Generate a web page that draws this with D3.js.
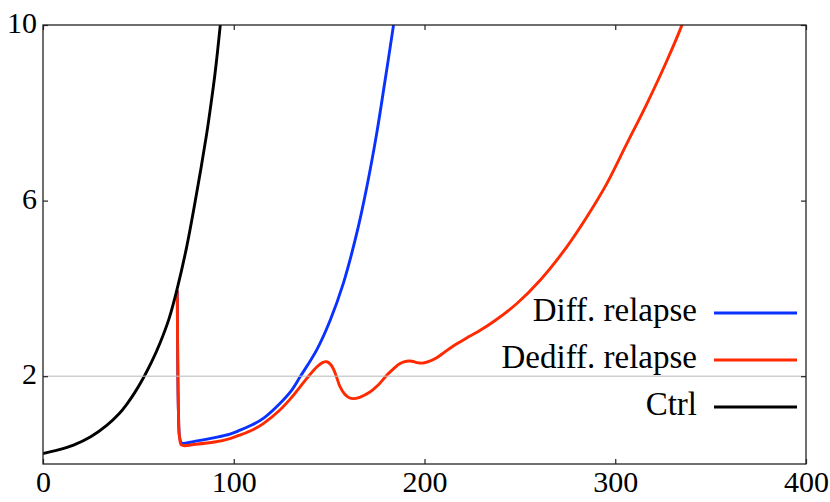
<!DOCTYPE html>
<html>
<head>
<meta charset="utf-8">
<script src="https://cdn.jsdelivr.net/npm/d3@7"></script>
</head>
<body style="margin:0;background:#fff">
<svg id="chart" width="830" height="502" style="display:block"></svg>
<script>
// values
const xTicks = [0, 100, 200, 300, 400];
const yTicks = [2, 6, 10];
const refLevel = 2;

const ctrlSeries = [
  [0,0.24],[8,0.32],[16,0.43],[25,0.62],[33.4,0.88],[40,1.15],[43.9,1.36],[48,1.62],
  [52.6,1.96],[57,2.33],[61.3,2.75],[66,3.3],[70.1,3.95],[75.3,4.94],[79.7,5.96],
  [83,6.78],[85.8,7.52],[88,8.18],[90.2,8.9],[92.8,9.94],[94,10.5]
];

const diffSeries = [
  [70.4,3.95],[70.6,2.5],[71,1.2],[71.6,0.62],[72.7,0.48],[80,0.52],[90,0.6],[98,0.68],
  [103.3,0.77],[110,0.9],[115.5,1.04],[124.2,1.38],[130,1.66],[134.7,1.98],[143.5,2.6],
  [150.5,3.27],[157.4,4.11],[164.4,5.24],[169.7,6.3],[174.9,7.52],[179.3,8.73],
  [183.7,9.98],[185,10.4]
];

const dediffSeries = [
  [70.4,3.95],[70.6,2.5],[71,1.2],[71.6,0.6],[72.7,0.43],[80,0.45],[90,0.5],[98,0.58],
  [103.3,0.66],[110,0.78],[115.5,0.92],[124.2,1.23],[130,1.5],[138.3,1.95],[143.5,2.21],
  [146.5,2.31],[148.7,2.33],[150.5,2.28],[152.2,2.17],[154,1.97],[155.7,1.76],[158,1.6],
  [160.5,1.51],[162.7,1.49],[166,1.52],[171.4,1.64],[176,1.81],[180.2,2.02],[184,2.18],
  [187.2,2.29],[190.6,2.34],[193.5,2.34],[196,2.31],[199.4,2.3],[202,2.33],[206.4,2.42],
  [210.5,2.55],[215.1,2.69],[218.6,2.78],[222.1,2.87],[229,3.04],[236.1,3.24],[248.3,3.65],
  [260.5,4.18],[274.5,4.94],[285,5.62],[295.5,6.38],[306,7.29],[316.5,8.2],[327,9.18],
  [334.8,9.98],[337,10.25]
];

const seriesNames = ["Diff. relapse", "Dediff. relapse", "Ctrl"];
const seriesColors = ["#0a32ff", "#ff2a00", "#000000"];
const seriesData = [diffSeries, dediffSeries, ctrlSeries];

const serifFont = "'Liberation Serif', 'Times New Roman', serif";

const margin = { top: 25, right: 24, bottom: 38, left: 43 };
const width = 830 - margin.left - margin.right;
const height = 502 - margin.top - margin.bottom;

const svg = d3.select("#chart");
const g = svg.append("g").attr("transform", `translate(${margin.left},${margin.top})`);

const x = d3.scaleLinear().domain([0, 400]).range([0, width]);
const y = d3.scaleLinear().domain([0, 10]).range([height, 0]);

g.append("clipPath").attr("id", "plot-clip")
  .append("rect").attr("width", width).attr("height", height);

const line = d3.line()
  .x(d => x(d[0]))
  .y(d => y(d[1]))
  .curve(d3.curveCatmullRom.alpha(0.5));

const curves = g.append("g").attr("clip-path", "url(#plot-clip)");
seriesData.forEach((s, i) => {
  curves.append("path")
    .datum(s)
    .attr("d", line)
    .attr("fill", "none")
    .attr("stroke", seriesColors[i])
    .attr("stroke-width", 2.9)
    .attr("stroke-linejoin", "round");
});

// thin reference line at y = 2, over the curves
g.append("line")
  .attr("x1", 0).attr("x2", width)
  .attr("y1", y(refLevel)).attr("y2", y(refLevel))
  .attr("stroke", "#bbbbbb")
  .attr("stroke-opacity", 0.7)
  .attr("stroke-width", 1.5);

// axes, ticks pointing inwards on all four sides
const styleAxis = sel => {
  sel.attr("font-family", null).attr("font-size", null);
  sel.select(".domain").remove();
  sel.selectAll(".tick line").attr("stroke", "#222").attr("stroke-width", 1.2);
  sel.selectAll(".tick text")
    .attr("fill", "#000")
    .attr("font-family", serifFont)
    .attr("font-size", 30);
};

g.append("g")
  .attr("transform", `translate(0,${height})`)
  .call(d3.axisBottom(x).tickValues(xTicks).tickSizeInner(-5).tickSizeOuter(0))
  .call(styleAxis)
  .selectAll("text")
  .attr("y", 28).attr("dy", null);

g.append("g")
  .call(d3.axisLeft(y).tickValues(yTicks).tickSizeInner(-5).tickSizeOuter(0).tickPadding(6))
  .call(styleAxis)
  .selectAll("text")
  .attr("dy", null).attr("y", 7.5);

g.append("g")
  .call(d3.axisTop(x).tickValues(xTicks).tickSizeInner(-5).tickSizeOuter(0).tickFormat(""))
  .call(styleAxis);

g.append("g")
  .attr("transform", `translate(${width},0)`)
  .call(d3.axisRight(y).tickValues(yTicks).tickSizeInner(-5).tickSizeOuter(0).tickFormat(""))
  .call(styleAxis);

g.append("rect")
  .attr("width", width).attr("height", height)
  .attr("fill", "none")
  .attr("stroke", "#222")
  .attr("stroke-width", 1.3);

// legend, lower right
const legend = g.append("g").attr("transform", `translate(${width - 92},${288})`);
seriesNames.forEach((name, i) => {
  const row = legend.append("g").attr("transform", `translate(0,${i * 47})`);
  row.append("line")
    .attr("x1", 0).attr("x2", 83)
    .attr("stroke", seriesColors[i])
    .attr("stroke-width", 2.9);
  row.append("text")
    .attr("x", -17).attr("y", 7.5)
    .attr("text-anchor", "end")
    .attr("font-family", serifFont)
    .attr("font-size", 33)
    .attr("fill", "#000")
    .text(name);
});
</script>
</body>
</html>
